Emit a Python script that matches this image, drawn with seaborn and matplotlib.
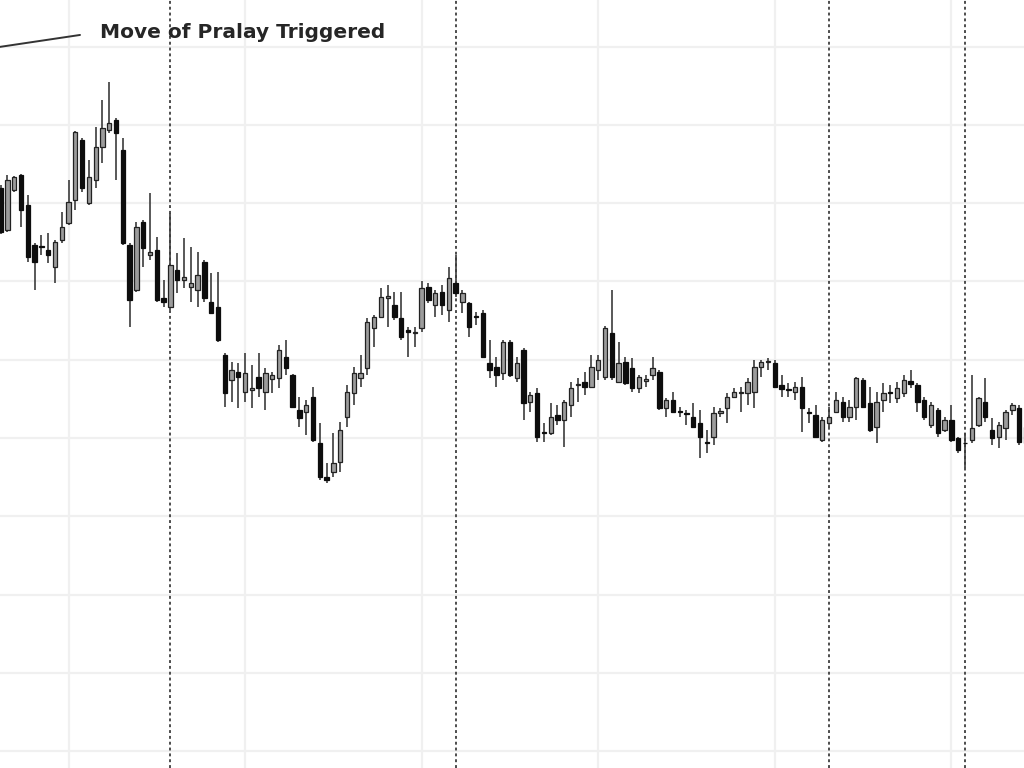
import matplotlib
matplotlib.use("Agg")
import matplotlib.pyplot as plt
import seaborn as sns
import pandas as pd
import numpy as np

opens = [131.9, 126.6, 131.7, 133.6, 129.8, 124.6, 124.5, 124.0, 121.8, 125.3,
         127.5, 130.4, 138.1, 130.0, 133.0, 137.2, 139.3, 140.6, 136.8, 124.6,
         118.9, 127.6, 123.4, 124.0, 117.9, 116.7, 121.5, 120.2, 119.3, 118.9,
         122.5, 117.4, 116.7, 110.6, 107.4, 108.4, 105.9, 106.1, 107.8, 105.9,
         107.5, 107.7, 110.3, 108.0, 103.6, 103.3, 105.2, 99.4, 95.0, 95.7,
         96.9, 102.7, 105.7, 107.7, 108.9, 114.0, 115.5, 117.9, 117.0, 115.3,
         113.8, 113.4, 114.0, 119.3, 117.0, 118.6, 116.3, 119.8, 117.4, 117.2,
         115.5, 116.0, 109.6, 109.1, 108.3, 112.3, 107.7, 111.2, 104.6, 105.7,
         100.8, 100.6, 102.9, 102.3, 104.2, 106.8, 107.2, 106.5, 108.7, 107.8,
         113.4, 107.2, 109.7, 108.9, 106.4, 107.3, 108.0, 108.4, 103.8, 104.9,
         103.4, 103.2, 102.7, 101.9, 99.5, 100.1, 103.2, 103.8, 105.2, 105.7,
         105.7, 105.9, 109.1, 109.7, 109.6, 106.8, 106.2, 105.9, 106.5, 103.3,
         102.9, 99.7, 101.9, 103.3, 104.6, 102.7, 104.0, 107.4, 104.5, 101.4,
         104.9, 105.8, 105.1, 105.7, 107.3, 106.8, 104.9, 101.7, 103.6, 101.0,
         102.3, 100.0, 99.4, 99.7, 101.7, 104.6, 101.0, 100.1, 101.3, 103.6,
         103.8, 99.4]
highs = [132.3, 133.6, 133.5, 133.7, 131.0, 124.9, 125.9, 126.2, 125.3, 128.9,
         133.0, 139.2, 138.3, 135.5, 139.7, 143.2, 145.5, 140.9, 138.3, 124.9,
         127.6, 127.8, 131.3, 125.7, 120.2, 128.7, 123.6, 125.5, 124.4, 123.8,
         122.7, 121.1, 121.2, 110.9, 109.7, 109.6, 110.9, 109.3, 110.9, 108.9,
         108.4, 111.9, 112.5, 108.2, 105.2, 104.9, 106.5, 101.9, 96.8, 100.6,
         102.0, 106.8, 109.1, 110.6, 115.3, 115.7, 119.2, 119.5, 118.6, 118.6,
         114.2, 114.2, 120.0, 119.8, 118.9, 119.5, 121.8, 123.4, 118.9, 117.4,
         116.1, 116.3, 112.5, 110.3, 112.5, 112.5, 110.3, 111.5, 105.9, 106.4,
         101.9, 104.5, 104.2, 104.9, 107.2, 107.7, 108.4, 110.6, 110.6, 114.3,
         118.9, 112.3, 110.3, 110.2, 108.0, 108.0, 110.3, 108.7, 105.1, 105.9,
         104.0, 103.6, 104.5, 103.6, 101.0, 104.0, 103.8, 105.7, 106.4, 106.5,
         107.7, 110.0, 110.0, 110.2, 110.0, 108.0, 107.0, 107.2, 107.8, 103.8,
         104.2, 102.7, 104.0, 105.9, 105.2, 104.9, 107.8, 107.7, 106.5, 105.9,
         107.0, 106.8, 107.2, 108.0, 108.7, 107.0, 105.2, 104.6, 103.8, 102.7,
         104.2, 100.1, 100.6, 108.0, 105.2, 107.7, 102.6, 102.0, 103.6, 104.5,
         104.2, 101.7]
lows = [126.0, 126.3, 131.4, 127.0, 122.5, 118.9, 123.4, 122.4, 119.8, 124.9,
        127.2, 129.1, 131.4, 129.8, 131.9, 135.1, 138.9, 133.0, 124.6, 114.2,
        118.6, 121.8, 122.7, 117.4, 116.7, 116.3, 118.5, 119.2, 117.4, 116.7,
        117.4, 115.8, 112.3, 104.0, 104.6, 103.8, 104.6, 103.8, 105.2, 103.6,
        105.7, 106.4, 108.0, 103.9, 101.4, 100.4, 99.5, 94.6, 94.3, 95.0,
        95.7, 101.4, 104.2, 106.5, 108.0, 111.6, 115.3, 114.2, 115.1, 112.5,
        110.3, 111.6, 113.5, 117.2, 115.5, 115.7, 114.8, 118.0, 116.0, 112.9,
        114.4, 110.2, 107.7, 106.5, 107.4, 107.8, 107.2, 102.3, 103.3, 99.5,
        99.5, 100.4, 101.7, 98.9, 102.7, 104.6, 105.5, 106.4, 107.4, 107.4,
        107.4, 107.0, 106.8, 105.9, 105.7, 106.5, 107.4, 103.6, 102.7, 103.2,
        102.7, 101.7, 101.3, 97.4, 98.1, 99.1, 102.7, 101.9, 105.1, 103.3,
        104.2, 103.8, 107.8, 108.7, 106.4, 105.2, 105.2, 104.9, 100.8, 101.9,
        100.0, 99.5, 101.4, 103.2, 102.0, 102.0, 102.3, 103.8, 100.8, 99.4,
        103.3, 104.5, 104.5, 105.2, 106.4, 103.3, 102.3, 101.3, 100.1, 100.8,
        99.5, 98.1, 96.2, 99.4, 101.4, 102.0, 99.1, 98.7, 99.7, 102.9,
        99.1, 99.0]
closes = [126.3, 133.0, 133.3, 129.1, 123.1, 122.5, 124.4, 123.4, 125.0, 126.9,
          130.1, 139.1, 131.9, 133.3, 137.2, 139.6, 140.2, 139.0, 124.9, 117.6,
          126.9, 124.3, 123.8, 117.6, 117.4, 122.1, 120.2, 120.6, 119.8, 120.8,
          117.9, 116.0, 112.5, 105.7, 108.7, 107.8, 108.3, 106.4, 106.4, 108.3,
          108.0, 111.2, 108.9, 104.0, 102.6, 104.2, 99.7, 95.0, 94.6, 96.8,
          101.0, 105.9, 108.3, 108.3, 114.8, 115.5, 118.0, 118.1, 115.5, 112.9,
          113.6, 113.6, 119.2, 117.6, 118.5, 117.0, 120.4, 118.5, 118.5, 114.2,
          115.4, 110.3, 108.7, 108.0, 112.3, 108.0, 109.6, 104.5, 105.5, 100.1,
          100.7, 102.7, 102.3, 104.6, 106.4, 106.9, 106.5, 109.1, 110.0, 114.0,
          107.8, 109.6, 107.0, 106.4, 107.8, 107.5, 108.9, 103.8, 104.9, 103.3,
          103.3, 103.1, 101.4, 100.1, 99.3, 103.2, 103.4, 105.2, 105.9, 105.8,
          107.2, 109.1, 109.7, 109.8, 106.5, 106.3, 106.1, 106.5, 103.8, 103.2,
          100.1, 102.3, 102.7, 104.9, 102.7, 104.0, 107.7, 104.0, 101.0, 104.6,
          105.7, 105.7, 106.4, 107.4, 106.9, 104.6, 102.7, 104.2, 100.6, 102.3,
          99.7, 98.5, 99.3, 101.3, 105.1, 102.7, 100.0, 101.7, 103.3, 104.2,
          99.5, 101.4]

grid_x = [10, 36, 62, 88, 114, 140]
grid_y = [60, 70, 80, 90, 100, 110, 120, 130, 140, 150]
event_x = [25, 67, 122, 142]
annotation_text = "Move of Pralay Triggered"

df = pd.DataFrame({"open": opens, "high": highs, "low": lows, "close": closes})
df["idx"] = np.arange(len(df))
df["up"] = df["close"] >= df["open"]

sns.set_theme(style="whitegrid")
plt.rcParams['font.family'] = ['DejaVu Sans']

fig = plt.figure(figsize=(10.24, 7.68), dpi=100)
ax = fig.add_axes([0, 0, 1, 1])

# wicks
ax.vlines(df["idx"], df["low"], df["high"], color="#3c3c3c", linewidth=1.2, zorder=2)
# bodies
w = 0.64
up = df[df["up"]]
dn = df[~df["up"]]
ax.bar(up["idx"], (up["close"] - up["open"]).clip(lower=0.12), bottom=up["open"], width=w,
       color="#9c9c9c", edgecolor="#222222", linewidth=0.9, zorder=3)
ax.bar(dn["idx"], (dn["open"] - dn["close"]).clip(lower=0.12), bottom=dn["close"], width=w,
       color="#0d0d0d", edgecolor="#0d0d0d", linewidth=0.9, zorder=3)

for ex in event_x:
    ax.axvline(ex, color="#4d4d4d", linewidth=1.4, linestyle=(0, (1.5, 1.5)), zorder=1)

ax.set_xticks(grid_x)
ax.set_yticks(grid_y)
ax.grid(True, color="#f0f0f0", linewidth=1.6)
ax.set_axisbelow(True)
ax.tick_params(labelleft=False, labelbottom=False, length=0)
for s in ax.spines.values():
    s.set_visible(False)
ax.set_facecolor("white")

ax.set_xlim(-0.09, 150.7)
ax.set_ylim(57.85, 155.94)

ax.annotate(annotation_text, xy=(-0.5, 149.9), xytext=(14.6, 151.85),
            fontsize=14.5, fontweight="bold", color="#262626", va="center", ha="left",
            annotation_clip=False,
            arrowprops=dict(arrowstyle="-", color="#333333", lw=1.4,
                            shrinkA=12, shrinkB=0, relpos=(0, 0.5)))

fig.savefig("out.png", dpi=100)
